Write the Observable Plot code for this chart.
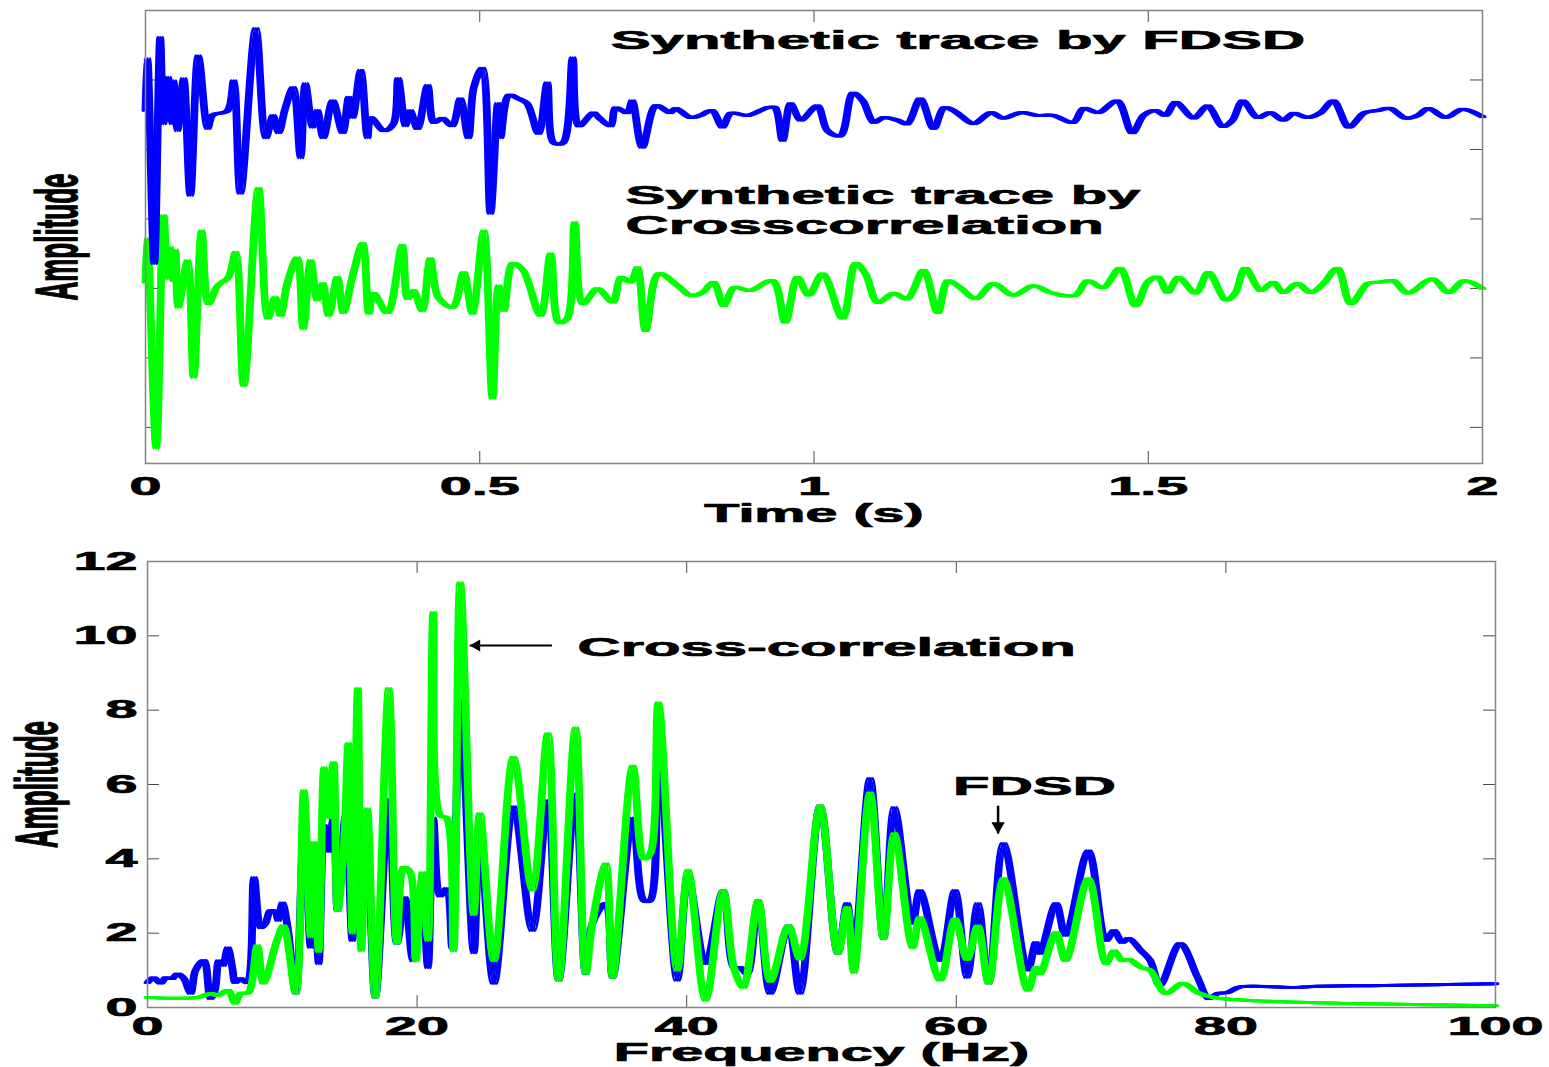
<!DOCTYPE html>
<html>
<head>
<meta charset="utf-8">
<script src="https://cdn.jsdelivr.net/npm/d3@7"></script>
<script src="https://cdn.jsdelivr.net/npm/@observablehq/plot@0.6"></script>
<style>
html, body { margin: 0; padding: 0; background: #fff; }
#wrap { position: relative; width: 1549px; height: 1067px; overflow: hidden; background: #fff; }
#top, #bottom { position: absolute; left: 0; }
#top { top: 0; }
#bottom { top: 530px; }
</style>
</head>
<body>
<div id="wrap"><div id="top"></div><div id="bottom"></div></div>
<script>
// ---------- Top panel: synthetic traces (time in s, amplitude relative to trace baseline) ----------
const fdsdTime = [0.000,0.003,0.013,0.022,0.027,0.034,0.040,0.042,0.048,0.057,0.067,0.079,0.093,0.100,0.123,0.132,0.142,0.165,0.180,0.191,0.199,0.209,0.221,0.232,0.239,0.250,0.257,0.266,0.280,0.295,0.304,0.310,0.322,0.332,0.337,0.356,0.371,0.378,0.389,0.396,0.407,0.422,0.431,0.444,0.459,0.471,0.483,0.491,0.504,0.516,0.527,0.531,0.543,0.558,0.571,0.588,0.601,0.610,0.625,0.639,0.648,0.670,0.678,0.696,0.703,0.721,0.728,0.743,0.763,0.785,0.793,0.815,0.830,0.848,0.863,0.875,0.901,0.930,0.942,0.953,0.965,0.980,1.005,1.020,1.040,1.058,1.073,1.089,1.104,1.125,1.140,1.159,1.179,1.194,1.209,1.219,1.239,1.264,1.283,1.309,1.334,1.358,1.388,1.403,1.426,1.454,1.476,1.493,1.511,1.526,1.541,1.568,1.589,1.611,1.626,1.641,1.663,1.683,1.702,1.717,1.738,1.758,1.777,1.800,1.822,1.843,1.862,1.885,1.903,1.919,1.945,1.970,2.000];
const fdsdTrace = [0.10,0.85,-2.10,1.15,-0.09,0.58,-0.09,0.53,-0.19,0.56,-1.12,0.89,-0.16,0.03,0.10,0.53,-1.09,1.28,-0.29,0.03,-0.22,0.13,0.43,-0.58,0.49,-0.14,0.10,-0.29,0.24,-0.22,0.29,0.00,0.68,-0.29,0.00,-0.19,-0.09,0.56,-0.12,0.10,-0.16,0.46,-0.07,-0.01,-0.12,0.27,-0.29,0.43,0.71,-1.38,0.20,-0.29,0.32,0.27,0.20,-0.23,0.50,-0.36,-0.36,0.86,-0.12,0.07,0.00,-0.12,0.14,0.07,0.24,-0.43,0.17,0.07,0.13,0.00,0.03,0.10,-0.14,0.06,0.03,0.14,0.14,-0.33,0.20,-0.04,0.17,-0.19,-0.26,0.35,0.24,-0.07,0.00,-0.04,-0.09,0.27,-0.16,0.14,0.10,0.03,-0.09,0.07,-0.01,0.07,0.03,0.03,-0.07,0.13,0.07,0.24,-0.22,0.03,0.10,0.03,0.22,-0.01,0.17,-0.13,-0.04,0.24,0.00,0.07,-0.04,0.06,0.00,0.07,0.24,-0.14,0.06,0.10,0.13,-0.01,0.03,0.13,0.00,0.12,0.01];

const ccTime = [0.000,0.003,0.016,0.027,0.033,0.037,0.042,0.045,0.049,0.063,0.072,0.084,0.094,0.108,0.124,0.135,0.147,0.169,0.183,0.194,0.202,0.212,0.227,0.236,0.247,0.257,0.265,0.274,0.287,0.296,0.310,0.325,0.334,0.341,0.362,0.384,0.392,0.401,0.414,0.426,0.438,0.460,0.476,0.489,0.506,0.519,0.528,0.536,0.549,0.565,0.591,0.606,0.618,0.631,0.642,0.654,0.676,0.699,0.711,0.726,0.736,0.748,0.767,0.796,0.815,0.833,0.850,0.865,0.880,0.905,0.939,0.957,0.975,0.992,1.013,1.043,1.062,1.077,1.095,1.119,1.140,1.164,1.185,1.200,1.219,1.242,1.268,1.298,1.328,1.354,1.391,1.409,1.433,1.458,1.481,1.499,1.515,1.529,1.545,1.571,1.590,1.616,1.630,1.645,1.668,1.687,1.702,1.723,1.743,1.762,1.783,1.803,1.828,1.847,1.867,1.888,1.925,1.949,1.972,2.000];
const ccTrace = [0.12,0.75,-2.27,1.08,0.17,0.62,0.14,0.58,-0.24,0.43,-1.25,0.86,-0.19,0.07,0.19,0.55,-1.37,1.47,-0.40,-0.10,-0.36,0.10,0.47,-0.55,0.43,-0.14,0.10,-0.36,0.19,-0.32,0.22,0.68,-0.33,-0.04,-0.32,0.65,-0.12,0.00,-0.29,0.46,-0.10,-0.24,0.26,-0.33,0.86,-1.55,0.07,-0.29,0.39,0.29,-0.36,0.53,-0.46,-0.40,0.98,-0.19,0.03,-0.17,0.19,0.12,0.33,-0.58,0.24,0.07,-0.07,-0.03,0.12,-0.22,0.04,0.00,0.14,-0.46,0.19,-0.07,0.24,-0.40,0.39,0.24,-0.17,-0.04,-0.12,0.29,-0.32,0.14,0.04,-0.12,0.10,-0.07,0.07,-0.03,-0.07,0.14,0.04,0.32,-0.22,0.12,0.19,-0.03,0.19,-0.04,0.26,-0.14,-0.04,0.32,0.00,0.12,-0.03,0.10,-0.03,0.10,0.32,-0.19,0.10,0.12,0.14,-0.04,0.17,-0.03,0.14,0.03];

const fdsdBaseline = 2.46;   // vertical offset of the FDSD trace
const ccBaseline = -0.03;    // vertical offset of the cross-correlation trace
const timeTicks = [0, 0.5, 1, 1.5, 2];
const traceTicks = [-2, -1, 0, 1, 2, 3];

// ---------- Bottom panel: amplitude spectra ----------
const fdsdFreq = [0,0.46,0.97,1.34,1.85,2.2,2.7,3.2,3.56,4.2,4.67,5.0,5.3,5.6,5.95,6.3,6.5,6.9,7.4,7.9,8.4,8.75,9.1,9.5,9.7,10.0,10.4,11.0,11.6,12.1,12.35,12.7,13.1,13.4,13.8,14.1,14.7,15.2,15.55,15.85,16.3,16.9,17.9,18.5,19.1,19.7,20.4,20.8,21.2,21.7,22.2,22.6,23.2,24.2,24.65,25.7,27.15,28.55,29.7,30.5,31.75,32.5,33.0,34.0,34.5,36.0,36.8,37.3,37.9,39.3,40.1,41.4,42.7,43.5,44.0,44.5,45.3,46.2,47.55,48.4,49.9,51.2,51.9,52.4,53.6,54.6,55.4,56.75,57.3,58.8,59.9,60.8,61.6,62.4,63.5,65.3,65.9,66.2,67.4,68.1,69.8,71.1,71.7,72.3,72.8,73.7,74.4,75.1,76.6,77.9,78.7,79.4,80.1,80.9,82.1,84.8,86.8,91.7,100];
const fdsdSpectrum = [0.67,0.8,0.65,0.8,0.78,0.9,0.78,0.38,1.0,1.26,0.24,0.46,1.26,1.13,1.61,1.05,0.67,0.78,0.67,3.5,2.15,2.26,2.6,2.56,2.34,2.82,2.15,0.38,4.8,1.62,3.8,1.18,4.9,4.2,5.1,2.6,5.17,1.8,5.1,2.4,4.2,0.27,5.6,1.72,2.96,1.26,2.9,1.07,5.1,3.0,3.2,1.6,8.3,1.47,4.6,0.65,5.4,2.07,5.57,0.73,5.75,0.91,2.26,2.8,0.81,5.1,2.88,2.88,6.9,0.73,3.5,1.18,3.15,1.07,1.07,0.9,2.88,0.38,2.2,0.38,5.43,1.45,2.8,1.53,6.16,1.86,5.38,2.26,3.15,1.26,3.15,0.81,2.8,0.65,4.41,1.0,1.75,1.45,2.8,1.94,4.22,1.8,2.07,1.75,1.86,1.53,1.26,0.59,1.72,0.81,0.24,0.38,0.40,0.54,0.57,0.54,0.57,0.59,0.64];

const ccFreq = [0,3.7,4.7,5.2,6.0,6.5,6.9,7.5,8.15,8.6,9.6,10.1,11.0,11.6,12.1,12.35,12.7,13.1,13.4,13.8,14.1,14.55,14.9,15.2,15.6,15.85,16.3,16.9,17.9,18.5,19.0,19.5,19.9,20.4,20.8,21.2,21.7,22.2,22.7,23.2,24.2,24.65,25.7,27.15,28.55,29.7,30.5,31.75,32.5,33.0,34.0,34.5,36.0,36.8,37.3,37.9,39.3,40.1,41.4,42.7,43.5,44.2,45.3,46.2,47.55,48.4,49.9,51.2,51.9,52.4,53.6,54.6,55.4,56.75,57.3,58.8,59.9,60.8,61.6,62.4,63.5,65.3,65.9,66.2,67.4,68.1,69.8,71.1,71.7,72.3,72.8,73.7,74.4,75.5,76.8,77.9,79.1,81.8,89.2,100];
const ccSpectrum = [0.27,0.27,0.38,0.32,0.46,0.11,0.38,0.40,1.67,0.65,1.8,2.2,0.38,5.84,1.9,4.44,1.5,6.46,5.1,6.6,2.6,4.2,7.1,2.0,8.58,1.53,5.35,0.27,8.58,1.72,3.77,3.63,1.26,3.63,1.8,10.63,5.17,5.1,1.53,11.43,2.5,5.22,1.26,6.73,3.15,7.37,0.73,7.53,0.91,2.26,3.87,0.81,6.5,4.0,4.14,8.2,1.0,3.69,0.19,3.15,1.07,0.54,2.88,0.7,2.2,1.3,5.43,1.45,2.7,0.94,5.78,1.86,4.68,1.61,2.42,0.73,2.39,1.29,2.2,0.65,3.47,0.46,1.08,0.9,2.02,1.26,3.47,1.18,1.53,1.26,1.3,1.08,1.0,0.38,0.65,0.40,0.27,0.19,0.11,0.05];

const freqTicks = [0, 20, 40, 60, 80, 100];
const ampTicks = [0, 2, 4, 6, 8, 10, 12];

// ---------- Annotations (data coordinates) ----------
const topNotes = [
  {t: 0.696, v: 3.57, text: "Synthetic trace by FDSD"},
  {t: 0.718, v: 1.33, text: "Synthetic trace by"},
  {t: 0.718, v: 0.91, text: "Crosscorrelation"}
];
const ccNote = [{f: 31.9, a: 9.69, text: "Cross-correlation"}];
const fdsdNote = [{f: 65.8, a: 5.93, text: "FDSD"}];
const ccArrow = [{f1: 30.0, f2: 23.9, a1: 9.74, a2: 9.74}];
const fdsdArrow = [{f1: 63.1, f2: 63.1, a1: 5.43, a2: 4.68}];

// ---------- build rows ----------
const zipRows = (xs, ys, kx, ky) => xs.slice(0, Math.min(xs.length, ys.length)).map((x, i) => ({[kx]: x, [ky]: ys[i]}));
const fdsdRows = zipRows(fdsdTime, fdsdTrace, "t", "a");
const ccRows = zipRows(ccTime, ccTrace, "t", "a");
const fdsdSpecRows = zipRows(fdsdFreq, fdsdSpectrum, "f", "a");
const ccSpecRows = zipRows(ccFreq, ccSpectrum, "f", "a");

const FONT = "'Liberation Sans', Arial, Helvetica, sans-serif";
const BLUE = "#0000ff", GREEN = "#00ff00";
const TICK = "#4a4a4a", FRAME = "#858585";
const STRETCH = 2.3;

// a line drawn with a horizontally wide pen (as in the horizontally stretched original)
function widePenLine(rows, opts) {
  return [-2.4, 0, 2.4].map(dx => Plot.line(rows, {...opts, dx, curve: "catmull-rom", strokeWidth: 3}));
}

function stretchText(svg, s) {
  svg.querySelectorAll("text").forEach(t => {
    const tr = t.getAttribute("transform");
    if (tr && /translate\([^)]*\)/.test(tr)) {
      t.setAttribute("transform", tr.replace(/translate\([^)]*\)/, m => m + ` scale(${s},1)`));
    } else {
      const x = +(t.getAttribute("x") || 0), y = +(t.getAttribute("y") || 0);
      t.setAttribute("transform", `translate(${x},${y}) scale(${s},1) translate(${-x},${-y})` + (tr ? " " + tr : ""));
    }
    // slightly heavier glyphs, as in the original
    t.setAttribute("stroke", "black");
    t.setAttribute("stroke-width", "0.7");
    t.setAttribute("stroke-linejoin", "round");
    t.setAttribute("paint-order", "stroke");
  });
}

const labelStyle = {fontSize: 25, fontWeight: "bold", fill: "black"};

// ---------- Top plot ----------
const T = {w: 1549, h: 530, ml: 145, mr: 67, mt: 10, mb: 67};
const tW = T.w - T.ml - T.mr, tH = T.h - T.mt - T.mb, tickLen = 12;
const topPlot = Plot.plot({
  width: T.w, height: T.h,
  marginLeft: T.ml, marginRight: T.mr, marginTop: T.mt, marginBottom: T.mb,
  x: {domain: [0, 2]},
  y: {domain: [-2.52, 4], axis: null},
  style: {fontFamily: FONT, fontSize: "25px", color: "black", background: "transparent", overflow: "visible"},
  marks: [
    Plot.tickX(timeTicks.slice(1, -1), {x: d => d, stroke: TICK, insetTop: tH - tickLen}),
    Plot.tickX(timeTicks.slice(1, -1), {x: d => d, stroke: TICK, insetBottom: tH - tickLen}),
    Plot.tickY(traceTicks, {y: d => d, stroke: TICK, insetRight: tW - tickLen}),
    Plot.tickY(traceTicks, {y: d => d, stroke: TICK, insetLeft: tW - tickLen}),
    widePenLine(ccRows, {x: "t", y: d => d.a + ccBaseline, stroke: GREEN}),
    widePenLine(fdsdRows, {x: "t", y: d => d.a + fdsdBaseline, stroke: BLUE}),
    Plot.frame({stroke: FRAME, strokeWidth: 1.5}),
    Plot.text(topNotes, {x: "t", y: "v", text: "text", textAnchor: "start", fontSize: 26, fontWeight: "bold", fill: "black"}),
    Plot.axisX({ticks: timeTicks, tickSize: 0, tickPadding: 14, tickFormat: d => String(d), fontSize: 25, fontWeight: "bold", label: null}),
    Plot.text(["Time (s)"], {frameAnchor: "bottom", lineAnchor: "middle", textAnchor: "middle", dy: 50, ...labelStyle}),
    Plot.text(["Amplitude"], {frameAnchor: "left", textAnchor: "middle", lineAnchor: "middle", dx: -88, rotate: -90, fontSize: 26, fontWeight: "bold", fill: "black"})
  ]
});
stretchText(topPlot, STRETCH);
document.getElementById("top").appendChild(topPlot);

// ---------- Bottom plot ----------
const B = {w: 1549, h: 537, ml: 147, mr: 54, mt: 31, mb: 60};
const bW = B.w - B.ml - B.mr, bH = B.h - B.mt - B.mb;
const bottomPlot = Plot.plot({
  width: B.w, height: B.h,
  marginLeft: B.ml, marginRight: B.mr, marginTop: B.mt, marginBottom: B.mb,
  x: {domain: [0, 100]},
  y: {domain: [0, 12]},
  style: {fontFamily: FONT, fontSize: "25px", color: "black", background: "transparent", overflow: "visible"},
  marks: [
    Plot.tickX(freqTicks.slice(1, -1), {x: d => d, stroke: TICK, insetTop: bH - tickLen}),
    Plot.tickX(freqTicks.slice(1, -1), {x: d => d, stroke: TICK, insetBottom: bH - tickLen}),
    Plot.tickY(ampTicks.slice(1, -1), {y: d => d, stroke: TICK, insetRight: bW - tickLen}),
    Plot.tickY(ampTicks.slice(1, -1), {y: d => d, stroke: TICK, insetLeft: bW - tickLen}),
    widePenLine(fdsdSpecRows, {x: "f", y: "a", stroke: BLUE}),
    widePenLine(ccSpecRows, {x: "f", y: "a", stroke: GREEN}),
    Plot.frame({stroke: FRAME, strokeWidth: 1.5}),
    // arrows: shaft + filled triangular head
    Plot.link(ccArrow, {x1: "f1", x2: "f2", y1: "a1", y2: "a2", stroke: "black", strokeWidth: 2}),
    Plot.dot(ccArrow, {x: "f2", y: "a2", symbol: "triangle", r: 4.5, rotate: -90, fill: "black", stroke: "none", dx: 7}),
    Plot.link(fdsdArrow, {x1: "f1", x2: "f2", y1: "a1", y2: "a2", stroke: "black", strokeWidth: 2.5}),
    Plot.dot(fdsdArrow, {x: "f2", y: "a2", symbol: "triangle", r: 5, rotate: 180, fill: "black", stroke: "none", dy: -7.5}),
    Plot.text(ccNote, {x: "f", y: "a", text: "text", textAnchor: "start", fontSize: 26, fontWeight: "bold", fill: "black"}),
    Plot.text(fdsdNote, {x: "f", y: "a", text: "text", textAnchor: "middle", fontSize: 26, fontWeight: "bold", fill: "black"}),
    Plot.axisX({ticks: freqTicks, tickSize: 0, tickPadding: 10, tickFormat: d => String(d), fontSize: 25, fontWeight: "bold", label: null}),
    Plot.axisY({ticks: ampTicks, tickSize: 0, tickPadding: 10, tickFormat: d => String(d), fontSize: 25, fontWeight: "bold", label: null}),
    Plot.text(["Frequency (Hz)"], {frameAnchor: "bottom", lineAnchor: "middle", textAnchor: "middle", dy: 45, ...labelStyle}),
    Plot.text(["Amplitude"], {frameAnchor: "left", textAnchor: "middle", lineAnchor: "middle", dx: -110, rotate: -90, fontSize: 26, fontWeight: "bold", fill: "black"})
  ]
});
stretchText(bottomPlot, STRETCH);
document.getElementById("bottom").appendChild(bottomPlot);
</script>
</body>
</html>
